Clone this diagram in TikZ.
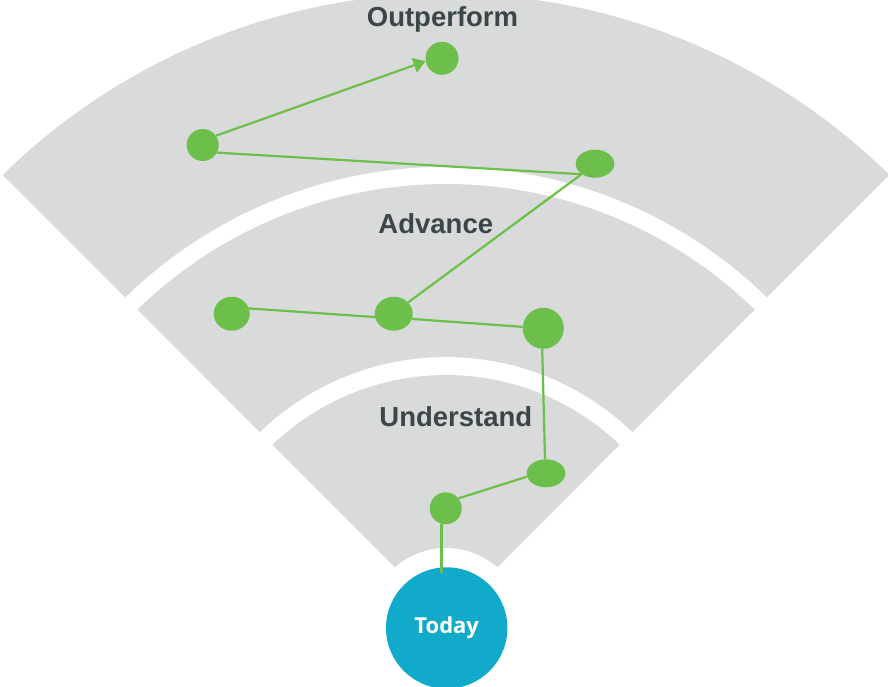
\documentclass[tikz,border=0pt]{standalone}
\usepackage{fontspec}
\setmainfont{Liberation Sans}
\newfontfamily\todayfont{Open Sans}
\usetikzlibrary{shapes.geometric,arrows.meta,calc}
\definecolor{bandgray}{HTML}{D9DADA}
\definecolor{dotgreen}{HTML}{6CBF4B}
\definecolor{todayteal}{HTML}{12AACA}
\definecolor{labelgray}{HTML}{3B4649}
\newcommand\fanband[4]{%
  \fill[bandfill] plot[domain=180-#2:#2, samples=120] ({446.1+#1*cos(\x)},{626-#1*sin(\x)})
    -- plot[domain=#4:180-#4, samples=120] ({446.1+#3*cos(\x)},{626-#3*sin(\x)}) -- cycle;}
\begin{document}
\begin{tikzpicture}[x=1pt,y=-1pt,
  bandfill/.style={fill=bandgray},
  dot/.style={circle,fill=dotgreen,draw=none,inner sep=0pt},
  edot/.style={ellipse,fill=dotgreen,draw=none,inner sep=0pt},
  link/.style={draw=dotgreen,line width=2.2pt},
  lbl/.style={font=\bfseries\fontsize{27.5}{30}\selectfont,text=labelgray,anchor=base,inner sep=0pt},
  todaynode/.style={circle,fill=todayteal,draw=none,inner sep=0pt,minimum size=121.4pt,
    font=\todayfont\bfseries\fontsize{22}{26}\selectfont,text=white}]
\useasboundingbox (0,0) rectangle (888,686);
\clip (0,0) rectangle (888,686);
% bands
\fanband{632.5}{45.49}{459.3}{45.68}
\fanband{442}{45.71}{269}{46.14}
\fanband{251}{46.23}{78}{48.95}
% labels
\node[lbl] (lout) at (442.5,26) {Outperform};
\node[lbl] (ladv) at (435.8,233.3) {Advance};
\node[lbl] (lund) at (455.8,426.7) {Understand};
% today
\node[todaynode] (Today) at (446.7,628) {Today};
% dots
\node[dot,minimum size=33pt] (A) at (442,58.3) {};
\node[dot,minimum size=32pt] (B) at (202.7,145) {};
\node[edot,minimum width=38.6pt,minimum height=28pt] (C) at (595,163.7) {};
\node[edot,minimum width=36pt,minimum height=34pt] (D) at (231.7,313.7) {};
\node[edot,minimum width=38pt,minimum height=34pt] (E) at (393.7,313.7) {};
\node[dot,minimum size=41pt] (F) at (543.3,328.3) {};
\node[edot,minimum width=38.6pt,minimum height=28pt] (G) at (546,473.3) {};
\node[dot,minimum size=32pt] (H) at (445.7,508.3) {};
% links
\draw[link] ($(H.-105 |- Today.north)+(0,6)$) -- (H.-105);
\draw[link] (H.38) -- (G.190);
\draw[link] (G.94) -- (F.-93);
\draw[link] (F.176) -- (E.-16);
\draw[link] (E.190) -- (D.17);
\draw[link] (E.38) -- (C.218);
\draw[link] (C.219) -- (B.-28);
\draw[link,-{Triangle[length=12pt,width=15pt]}] (B.35) -- (A.190);
\end{tikzpicture}
\end{document}
